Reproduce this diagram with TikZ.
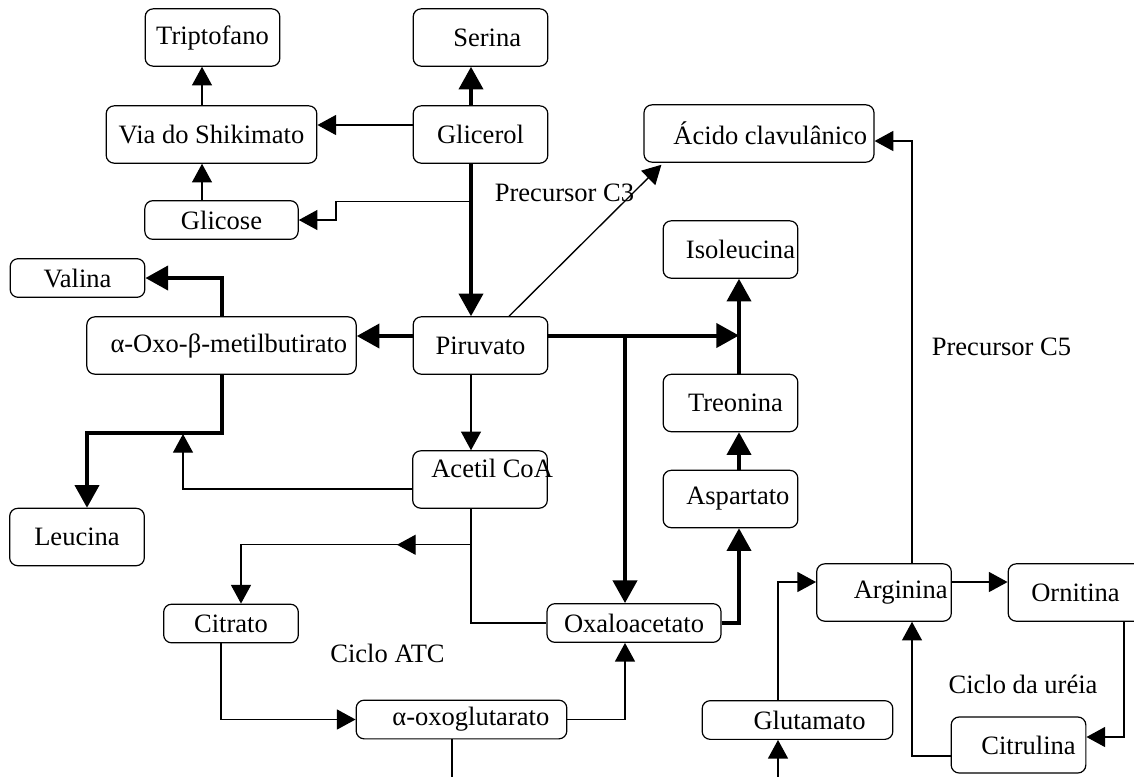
\documentclass[tikz,border=0pt]{standalone}
\usepackage{fontspec}
\setmainfont{Liberation Serif}
\usetikzlibrary{arrows.meta,calc}

\tikzset{
  caixa/.style={draw, rounded corners=6pt, line width=0.9pt, minimum width=101pt,
    minimum height=43pt, inner sep=0pt},
  baixa/.style={caixa, minimum height=29pt},
  linha/.style={line width=1pt},
  fina/.style={line width=1pt, -{Triangle[length=14pt,width=15pt]}},
  grossa/.style={line width=3pt, -{Triangle[length=17pt,width=18pt]}},
}

\begin{document}
\begin{tikzpicture}[x=0.75pt, y=-0.75pt, font=\fontsize{19.9}{22}\selectfont]

\useasboundingbox (0,0) rectangle (1134,776);

% caixas de cima
\node[caixa] (trip) at (212.5,37.5) {Triptofano};
\node[caixa] (serina) at (480.5,37.5) {\hspace{10pt}Serina};
\node[caixa, minimum width=158pt] (shik) at (211.5,134.5) {Via do Shikimato};
\node[caixa] (glicerol) at (480.5,134.5) {Glicerol};
\node[baixa, minimum width=115pt] (glicose) at (221.5,220) {Glicose};
\node[caixa, minimum width=172.5pt] (acido) at (759,133.5) {\hspace{17pt}Ácido clavulânico};

% caixas do meio
\node[caixa] (isoleucina) at (730.5,249.5) {\hspace{15pt}Isoleucina};
\node[baixa] (valina) at (77.5,278) {Valina\hspace{11pt}};
\node[caixa, minimum width=202pt] (oxo) at (221.5,345.5) {\hspace{11pt}α-Oxo-β-metilbutirato};
\node[caixa] (piruvato) at (480.5,345.5) {Piruvato};
\node[caixa] (treonina) at (730.5,403) {\hspace{7.5pt}Treonina};
\node[caixa] (acetil) at (480,479.5) {\raisebox{17pt}{\makebox[101pt][l]{\hspace{14pt}Acetil CoA}}};
\node[caixa] (aspartato) at (730.5,499) {\hspace{11pt}Aspartato};
\node[caixa] (leucina) at (77,537) {Leucina};

% caixas de baixo
\node[baixa] (citrato) at (231,623.5) {Citrato\hspace{8pt}};
\node[baixa, minimum width=130.5pt] (oxalo) at (634,623) {Oxaloacetato};
\node[baixa, minimum width=158pt] (alfaoxo) at (461.5,719.5) {\hspace{14pt}α-oxoglutarato};
\node[baixa, minimum width=143pt] (glutamato) at (797.5,720) {\hspace{18pt}Glutamato};
\node[caixa] (arginina) at (884,592.5) {\hspace{25pt}Arginina};
\node[caixa] (ornitina) at (1075.5,592.5) {Ornitina};
\node[caixa, minimum height=42pt] (citrulina) at (1018.5,745) {\hspace{15pt}Citrulina};

% rotulos soltos
\node (pc3) at (564.5,193) {Precursor C3};
\node (pc5) at (1001.5,347) {Precursor C5};
\node (atc) at (387.5,653) {Ciclo ATC};
\node (ureia) at (1023,684) {Ciclo da uréia};

% pontas livres
\coordinate (ramo) at (183,434);
\coordinate (fimoxo) at (452,780);
\coordinate (fimglu) at (778,780);

% glicerol e via do shikimato
\draw[fina] ($(shik.north)+(-9.5,0)$) coordinate (s1) -- (s1 |- trip.south);
\draw[fina] ($(glicose.north)+(-19.5,0)$) -- ($(shik.south)+(-9.5,0)$);
\draw[fina] ($(glicerol.west)+(0,-9.5)$) coordinate (g1) -- (g1 -| shik.east);
\draw[grossa] ($(glicerol.north)+(-9.5,0)$) -- ($(serina.south)+(-9.5,0)$);
\draw[grossa] ($(glicerol.south)+(-9.5,0)$) -- ($(piruvato.north)+(-9.5,0)$);
\draw[fina] ($(glicerol.south)+(-9.5,38)$) -- ++(-135,0) |- (glicose.east);

% piruvato para a esquerda
\draw[grossa] ($(piruvato.west)+(0,-9.5)$) coordinate (p0) -- (p0 -| oxo.east);
\draw[grossa] (oxo.north) |- (valina.east);
\draw[grossa] (oxo.south) -- ++(0,58) -| ($(leucina.north)+(10,0)$);
\draw[fina] ($(acetil.west)+(0,9.5)$) -| (ramo);
\draw[fina] ($(piruvato.south)+(-9.5,0)$) -- ($(acetil.north)+(-9,0)$);
\draw[fina] ($(piruvato.north)+(28.5,0)$) -- ($(acido.south west)+(18,2)$);

% piruvato para a direita
\draw[grossa] ($(treonina.north)+(8.5,0)$) coordinate (t1) -- (t1 |- isoleucina.south);
\draw[grossa] ($(piruvato.east)+(0,-10)$) coordinate (p1) -- (p1 -| t1);
\coordinate (o1) at ($(oxalo.north)+(-9,0)$);
\draw[grossa] (p1 -| o1) -- (o1);
\draw[grossa] (oxalo.east) -| ($(aspartato.south)+(8.5,0)$);
\draw[grossa] ($(aspartato.north)+(8.5,0)$) -- ($(treonina.south)+(8.5,0)$);

% ciclo ATC
\draw[linha] ($(acetil.south)+(-9,0)$) -- ++(0,36) coordinate (a1) |- (oxalo.west);
\draw[fina] (a1) -| ($(citrato.north)+(10,0)$);
\draw[fina] (a1) -- ++(-74,0);
\draw[fina] ($(citrato.south)+(-10,0)$) |- (alfaoxo.west);
\draw[fina] (alfaoxo.east) -| (o1 |- oxalo.south);
\draw[linha] ($(alfaoxo.south)+(-9.5,0)$) -- (fimoxo);

% arginina e ciclo da ureia
\draw[fina] (fimglu) -- (fimglu |- glutamato.south);
\draw[fina] (fimglu |- glutamato.north) |- ($(arginina.west)+(0,-10.5)$);
\draw[fina] ($(arginina.east)+(0,-10.5)$) coordinate (r1) -- (r1 -| ornitina.west);
\draw[fina] ($(ornitina.south)+(48.5,0)$) |- ($(citrulina.east)+(0,-8)$);
\draw[fina] ($(citrulina.west)+(0,11)$) -| ($(arginina.south)+(28,0)$);
\draw[fina] ($(arginina.north)+(28,0)$) |- ($(acido.east)+(0,7.5)$);

\end{tikzpicture}
\end{document}
